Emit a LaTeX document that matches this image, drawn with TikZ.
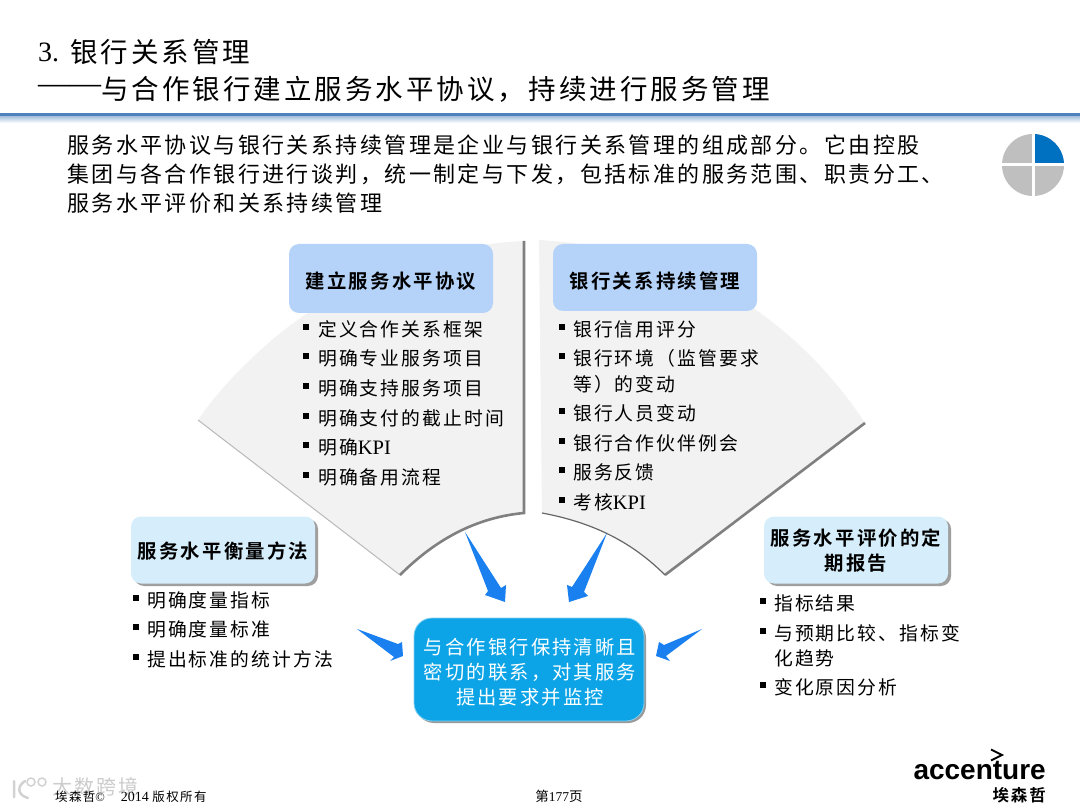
\documentclass[tikz,border=0pt]{standalone}
\usepackage{fontspec}
\setmainfont{Liberation Serif}
\newfontfamily\cjk{Noto Sans CJK SC}[LetterSpace=11]
\newfontfamily\cjkb{Noto Sans CJK SC}[LetterSpace=11,BoldFont={Noto Sans CJK SC Bold}]
\newfontfamily\lat{Liberation Serif}
\newfontfamily\logo{Liberation Sans}
\usetikzlibrary{calc}
\definecolor{fan}{HTML}{F2F2F2}
\definecolor{hdr}{HTML}{B5D3F8}
\definecolor{sub}{HTML}{D6EEFB}
\definecolor{core}{HTML}{0CA4E6}
\definecolor{arr}{HTML}{1A7FEF}
\definecolor{rule}{HTML}{4F81BD}
\definecolor{pieg}{HTML}{BFBFBF}
\definecolor{pieb}{HTML}{0070C0}
\newcommand{\K}{{\lat\fontsize{20.5}{20.5}\selectfont KPI}}
\tikzset{
  x=1pt,y=-1pt,
  titletext/.style={anchor=west,inner sep=0pt,font=\fontsize{27.5}{27.5}\selectfont\cjk},
  bodytext/.style={anchor=west,inner sep=0pt,font=\fontsize{22}{22}\selectfont\cjk},
  itemtext/.style={anchor=west,inner sep=0pt,font=\fontsize{18.8}{18.8}\selectfont\cjk},
  boxtext/.style={inner sep=0pt,align=center,font=\fontsize{19.4}{25}\selectfont\cjkb\bfseries},
  bullet/.style={fill=black,minimum size=6pt,inner sep=0pt},
  hdrbox/.style={fill=hdr,rounded corners=10pt},
  subbox/.style={fill=sub,rounded corners=10pt},
  fanshape/.style={fill=fan},
  darkedge/.style={draw=black!50,line width=2.6pt},
  arrowfill/.style={fill=arr},
}
\begin{document}
\begin{tikzpicture}
\useasboundingbox (0,0) rectangle (1080,810);
\fill[white] (0,0) rectangle (1080,810);

% title
\node[titletext] (t0) at (38,52) {\lat\fontsize{28}{28}\selectfont 3.};
\node[titletext] (t1) at (70,52) {银行关系管理};
\node[titletext] (t2a) at (38,89) {\lat\fontsize{31.5}{31.5}\selectfont ——};
\node[titletext] (t2) at (101,89) {与合作银行建立服务水平协议，持续进行服务管理};
\fill[rule] (0,113) rectangle (1080,117);
\shade[top color=rule!45,bottom color=white] (0,117) rectangle (1080,123);

% intro
\node[bodytext] (b1) at (67,145) {服务水平协议与银行关系持续管理是企业与银行关系管理的组成部分。它由控股};
\node[bodytext] (b2) at (67,174) {集团与各合作银行进行谈判，统一制定与下发，包括标准的服务范围、职责分工、};
\node[bodytext] (b3) at (67,203) {服务水平评价和关系持续管理};

% pie
\coordinate (pc) at (1033,165);
\fill[pieg] (pc) circle[radius=31];
\fill[pieb] (pc) -- ++(0,-31) arc[start angle=-90,end angle=0,radius=31] -- cycle;
\draw[white,line width=3pt] (1000,165) -- (1066,165) (1033,132) -- (1033,198);

% left fan
\fill[fanshape] (524,241) .. controls (420,246) and (320,290) .. (247,363)
  .. controls (228,381) and (212,400) .. (198,420) -- (400,575)
  .. controls (430,545) and (470,518) .. (524,513) -- cycle;
\draw[gray!55,line width=1pt] (198,420) -- (400,575);
\draw[darkedge] (524,241) -- (524,513) .. controls (470,518) and (430,545) .. (400,575);

% right fan
\fill[fanshape] (539,240) .. controls (630,246) and (700,270) .. (760,313)
  .. controls (805,345) and (840,385) .. (865,423) -- (665,575)
  .. controls (630,540) and (590,522) .. (542,513) -- cycle;
\draw[darkedge] (865,423) -- (665,575);
\draw[black!60,line width=1.2pt] (665,575) .. controls (630,540) and (590,522) .. (542,513);

% section headers
\node[hdrbox,minimum width=204pt,minimum height=69pt] (h1) at (391,278.5) {};
\node[boxtext] at (391,281) {建立服务水平协议};
\node[hdrbox,minimum width=204pt,minimum height=67pt] (h2) at (655,277.5) {};
\node[boxtext] at (655,281) {银行关系持续管理};

% left list
\foreach \yy/\tx in {329/定义合作关系框架,358/明确专业服务项目,388/明确支持服务项目,418/明确支付的截止时间,447/明确\K,477/明确备用流程}{
  \node[bullet] at (306,\yy-2) {};
  \node[itemtext] at (318,\yy) {\tx};
}
% right list
\foreach \yy/\tx in {329/银行信用评分,358/银行环境（监管要求,413/银行人员变动,443/银行合作伙伴例会,472/服务反馈,502/考核\K}{
  \node[bullet] at (562,\yy-2) {};
  \node[itemtext] at (573,\yy) {\tx};
}
\node[itemtext] at (573,384) {等）的变动};

% side boxes
\fill[gray!75,rounded corners=10pt] (134,519) rectangle (318,586);
\node[subbox,minimum width=184pt,minimum height=67pt] (s1) at (223,550) {};
\node[boxtext] at (223,551) {服务水平衡量方法};
\fill[gray!75,rounded corners=10pt] (767,519) rectangle (951,586);
\node[subbox,minimum width=184pt,minimum height=67pt] (s2) at (856,550) {};
\node[boxtext] at (856,551) {服务水平评价的定\\期报告};

% side lists
\foreach \yy/\tx in {600/明确度量指标,629/明确度量标准,659/提出标准的统计方法}{
  \node[bullet] at (136,\yy-2) {};
  \node[itemtext] at (147,\yy) {\tx};
}
\foreach \yy/\tx in {603/指标结果,633/与预期比较、指标变,687/变化原因分析}{
  \node[bullet] at (763,\yy-2) {};
  \node[itemtext] at (774,\yy) {\tx};
}
\node[itemtext] at (774,658) {化趋势};

% core
\fill[gray!80,rounded corners=18pt] (416,620) rectangle (646,723);
\node[fill=core,draw=core!50,line width=.8pt,rounded corners=18pt,minimum width=230pt,minimum height=103pt] (c) at (529,669.5) {};
\node[boxtext,text=white,font=\fontsize{19.3}{25}\selectfont\cjk] at (530,672) {与合作银行保持清晰且\\密切的联系，对其服务\\提出要求并监控};

% arrows
\fill[arrowfill] (465,532) -- (501,588) -- (506,585) -- (505,602) -- (485,595) -- (488,591) -- cycle;
\fill[arrowfill] (607,533) -- (584,592) -- (588,596) -- (569,602) -- (567,585) -- (572,587) -- cycle;
\fill[arrowfill] (357,629) -- (398,644) -- (402,642) -- (403,656) -- (390,661) -- (394,657) -- cycle;
\fill[arrowfill] (702,629) -- (666,656) -- (670,661) -- (656,656) -- (659,642) -- (664,645) -- cycle;

% footer
\node[text=gray!40,font=\fontsize{20}{20}\selectfont\cjk,anchor=west,inner sep=0pt] (wm) at (52,787) {大数跨境};
\draw[gray!35,line width=2.5pt,line cap=round] (14,781) -- (14,797) (25,781) .. controls (17,786) and (17,795) .. (28,798);
\draw[gray!35,line width=1.5pt] (31,782) circle[radius=4] (42,782) circle[radius=4];
\node[font=\fontsize{12.5}{12.5}\selectfont\cjk,anchor=west,inner sep=0pt] (f1) at (55,796.5) {埃森哲{\lat ©\hspace{16pt}\fontsize{14}{14}\selectfont 2014 }版权所有};
\node[font=\fontsize{13.5}{13.5}\selectfont\cjk,inner sep=0pt] (f2) at (559,796) {第{\lat 177}页};
\node[font=\fontsize{28}{28}\selectfont\logo\bfseries,anchor=east,inner sep=0pt] (lg) at (1046,771) {accenture};
\node[font=\fontsize{16.5}{16.5}\selectfont\cjkb\bfseries,anchor=east,inner sep=0pt] (lc) at (1046,795) {埃森哲};
\draw[line width=2pt] (991,749.5) -- (1002,755) -- (991,760.5);
\end{tikzpicture}
\end{document}
